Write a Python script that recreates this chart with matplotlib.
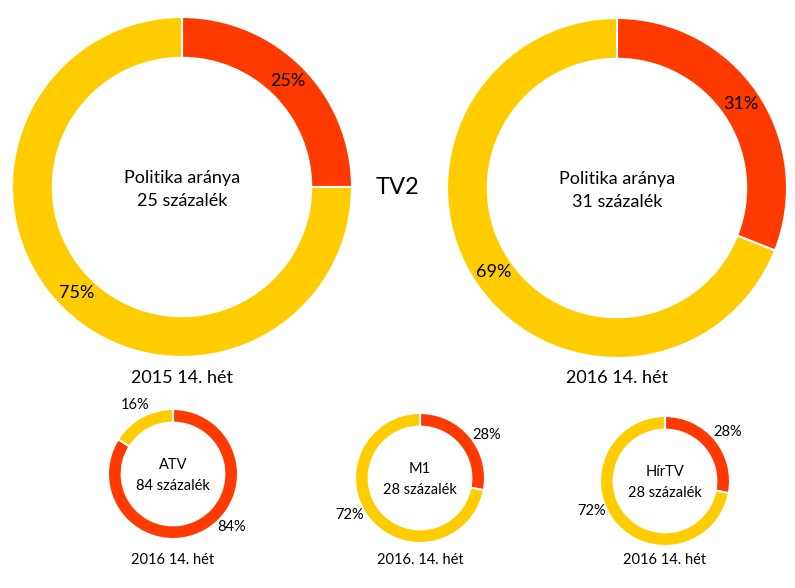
import matplotlib
matplotlib.use('Agg')
import numpy as np
from matplotlib import pyplot as plt

plt.rcParams['font.family'] = ['Lato', 'DejaVu Sans']

# data: share of politics (first slice) and the rest
channels = ['TV2', 'TV2', 'ATV', 'M1', 'HírTV']
politics = [25, 31, 84, 28, 28]
rest = [75, 69, 16, 72, 72]
captions = ['2015 14. hét', '2016 14. hét', '2016 14. hét', '2016. 14. hét', '2016 14. hét']

red = '#FF3A00'
yellow = '#FFCC00'

W, H = 795, 588
fig = plt.figure(figsize=(W / 100, H / 100), dpi=100)

# layout in pixels: centre x, centre y, outer radius, ring width, label distance, font size
layout = [
    (182, 187, 170, 0.24, 0.88, 13),
    (617, 188, 170, 0.24, 0.88, 13),
    (173, 474, 65, 0.21, 1.22, 10.5),
    (420, 478, 65, 0.21, 1.22, 10.5),
    (665, 481, 65, 0.21, 1.22, 10.5),
]
caption_y = [378, 378, 560, 560, 560]
# Excel nudges some outside labels; angle (deg clockwise from top) overrides
label_angle = {(2, 0): 132, (3, 0): 57, (3, 1): 242, (4, 0): 52, (4, 1): 248}


def donut(i):
    cx, cy, R, w, pd, fs = layout[i]
    ax = fig.add_axes([(cx - R) / W, 1 - (cy + R) / H, 2 * R / W, 2 * R / H])
    vals = [politics[i], rest[i]]
    wedges, texts, autotexts = ax.pie(
        vals, colors=[red, yellow], startangle=90, counterclock=False,
        radius=1, autopct=lambda p: '%d%%' % round(p), pctdistance=pd,
        wedgeprops=dict(width=w, edgecolor='white', linewidth=1.5))
    for k, t in enumerate(autotexts):
        t.set_fontsize(fs)
        t.set_color('black')
        if (i, k) in label_angle:
            a = np.radians(label_angle[(i, k)])
            t.set_position((pd * np.sin(a), pd * np.cos(a)))
    ax.set_xlim(-1, 1)
    ax.set_ylim(-1, 1)
    ax.set_aspect('equal')
    ax.axis('off')
    if i < 2:
        center = 'Politika aránya\n%d százalék' % politics[i]
    else:
        center = '%s\n%d százalék' % (channels[i], politics[i])
    ax.text(0, -0.015 if i < 2 else -0.02, center, ha='center', va='center',
            fontsize=fs, linespacing=1.6 if i < 2 else 1.65)
    fig.text(cx / W, 1 - caption_y[i] / H, captions[i], ha='center',
             va='center', fontsize=fs)


for i in range(len(politics)):
    donut(i)

fig.text(397 / W, 1 - 187 / H, 'TV2', ha='center', va='center', fontsize=17)

fig.savefig('out.png', dpi=100)
